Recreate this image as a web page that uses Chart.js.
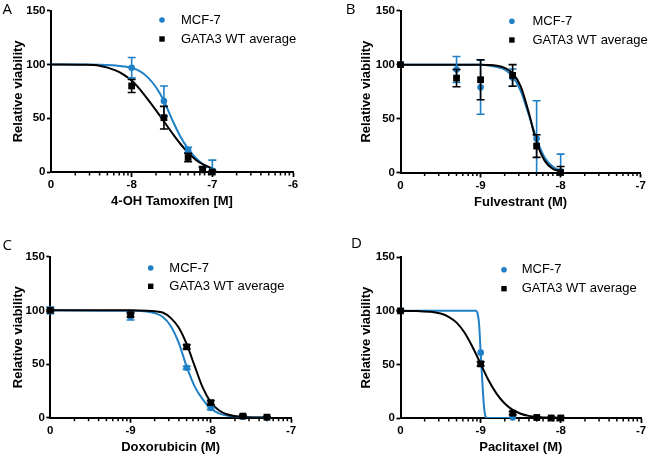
<!DOCTYPE html>
<html>
<head>
<meta charset="utf-8">
<script src="https://cdn.jsdelivr.net/npm/chart.js@4.4.0/dist/chart.umd.min.js"></script>
<style>
  body { margin: 0; background: #fff; }
  #wrap { position: relative; width: 650px; height: 457px; overflow: hidden; }
  .panel { position: absolute; }
  .letter { position: absolute; font: 15px "Open Sans", sans-serif; line-height: 1; color: #000; }
</style>
</head>
<body>
<div id="wrap">
  <canvas id="chartA" class="panel" width="325" height="228" style="left:0;top:0"></canvas>
  <canvas id="chartB" class="panel" width="325" height="228" style="left:325px;top:0"></canvas>
  <canvas id="chartC" class="panel" width="325" height="229" style="left:0;top:228px"></canvas>
  <canvas id="chartD" class="panel" width="325" height="229" style="left:325px;top:228px"></canvas>
  <div class="letter" style="left:2.5px;top:1.4px">A</div>
  <div class="letter" style="left:345.7px;top:0.7px">B</div>
  <div class="letter" style="left:2.5px;top:237.4px">C</div>
  <div class="letter" style="left:351px;top:235.4px">D</div>
</div>
<script>
// x values are log10 of the molar dose; the left end of each axis is the untreated control ("0")

// Panel A - 4-OH Tamoxifen
const tamDose = [-8, -7.6, -7.3, -7.12, -7];
const tamMcf7 = [97, 66, 20.5, 2, 1];
const tamMcf7Err = [9.5, 14, 2.5, 2, 10];
const tamGata3 = [80, 50.5, 13.5, 2, 0];
const tamGata3Err = [6, 10.5, 4, 3, 1];
const tamFitX = [-9, -8.6, -8.4, -8.2, -8.1, -8, -7.9, -7.8, -7.7, -7.6, -7.5, -7.4, -7.3, -7.2, -7.1, -7];
const tamMcf7Fit = [100, 100, 99.7, 99, 98.2, 96.8, 93.8, 88, 79, 66, 49, 33.5, 21.5, 12.5, 6.5, 2.8];
const tamGata3Fit = [100, 99.7, 98.8, 94.5, 90.5, 85, 77, 67.5, 57.5, 47, 36.5, 26.5, 18, 11, 6.5, 3.2];

// Panel B - Fulvestrant
const fulDose = [-10, -9.3, -9, -8.6, -8.3, -8];
const fulMcf7 = [100, 95.5, 79, 88, 31.5, 1];
const fulMcf7Err = [0, 12, 25, 8, 35, 16];
const fulGata3 = [100, 87.5, 86, 90, 24.5, 0];
const fulGata3Err = [0, 8, 18.5, 10, 10.5, 5.5];
const fulFitX = [-10, -9, -8.9, -8.8, -8.7, -8.6, -8.5, -8.4, -8.3, -8.2, -8.1, -8];
const fulMcf7Fit = [100, 99.8, 99.3, 98, 95.5, 89, 76, 54, 31, 14, 5.5, 1.5];
const fulGata3Fit = [100, 100, 99.7, 99, 97, 92, 80, 56, 28, 11, 3.5, 1];

// Panel C - Doxorubicin
const doxDose = [-10, -9, -8.3, -8, -7.6, -7.3];
const doxMcf7 = [100, 94, 46.5, 9, 1, 0];
const doxMcf7Err = [3, 3, 1.5, 1.5, 1, 0.5];
const doxGata3 = [100, 96, 66, 14, 1.5, 0.5];
const doxGata3Err = [1, 2, 2, 2, 1, 0.5];
const doxFitX = [-10, -9, -8.8, -8.7, -8.6, -8.5, -8.4, -8.3, -8.2, -8.1, -8, -7.9, -7.8, -7.7, -7.6, -7.3];
const doxMcf7Fit = [100, 99.6, 99, 97.5, 94, 85.5, 70, 47.5, 29, 17, 8.5, 4, 2, 1, 0.4, 0];
const doxGata3Fit = [100, 100, 99.7, 99.2, 98, 93, 84, 68.5, 48, 28, 14.5, 7, 3.2, 1.5, 0.7, 0.1];

// Panel D - Paclitaxel
const pacDose = [-10, -9, -8.6, -8.3, -8.12, -8];
const pacMcf7 = [100, 61, 0.5, 0, 0, 0];
const pacMcf7Err = [0, 0, 0, 0, 0, 0];
const pacGata3 = [100, 50.5, 4.5, 0.5, 0, 0];
const pacGata3Err = [0.5, 2, 1.5, 0.5, 0.5, 0.5];
const pacMcf7FitX = [-10, -9.06, -9.04, -9.02, -9, -8.98, -8.96, -8.94, -8.92, -8.6];
const pacMcf7Fit = [100, 100, 98, 88, 61, 35, 12, 1.5, 0, 0];
const pacGata3FitX = [-10, -9.8, -9.6, -9.5, -9.4, -9.3, -9.2, -9.1, -9, -8.9, -8.8, -8.7, -8.6, -8.5, -8.4, -8.3, -8];
const pacGata3Fit = [100, 99.8, 99, 97.5, 94.5, 89, 79.5, 66, 50.5, 35, 22.5, 13.5, 7.5, 4, 2, 1, 0.2];

const yTicks = [0, 50, 100, 150];
const seriesNames = ['MCF-7', 'GATA3 WT average'];

const BLUE = '#1f80c6';
const BLACK = '#000';
const FONT = '"Liberation Sans", Arial, sans-serif';

function pts(xs, ys) {
    return xs.map((x, i) => ({x: x, y: ys[i]}));
}

// error bars under each point series
const errorBars = {
    id: 'errorBars',
    beforeDatasetDraw(chart, args) {
        const ds = chart.data.datasets[args.index];
        if (!ds.errors) return;
        const ys = chart.scales.y;
        const ctx = chart.ctx;
        ctx.save();
        ctx.strokeStyle = ds.borderColor;
        ctx.lineWidth = 1.6;
        args.meta.data.forEach((pt, i) => {
            const e = ds.errors[i];
            if (!e) return;
            const v = ds.data[i].y;
            const top = ys.getPixelForValue(v + e);
            const bot = ys.getPixelForValue(Math.max(0, v - e));
            ctx.beginPath();
            ctx.moveTo(pt.x, top); ctx.lineTo(pt.x, bot);
            ctx.moveTo(pt.x - 4, top); ctx.lineTo(pt.x + 4, top);
            if (v - e > 0) { ctx.moveTo(pt.x - 4, bot); ctx.lineTo(pt.x + 4, bot); }
            ctx.stroke();
        });
        ctx.restore();
    }
};

// log-decade minor ticks on the x axis
const minorTicks = {
    id: 'minorTicks',
    afterDraw(chart) {
        const xs = chart.scales.x;
        const ctx = chart.ctx;
        const y0 = chart.chartArea.bottom;
        ctx.save();
        ctx.strokeStyle = '#000';
        ctx.lineWidth = 1.5;
        for (let d = Math.floor(xs.min); d < xs.max; d++) {
            for (let k = 2; k <= 9; k++) {
                const px = xs.getPixelForValue(d + Math.log10(k));
                ctx.beginPath();
                ctx.moveTo(px, y0);
                ctx.lineTo(px, y0 + 3.5);
                ctx.stroke();
            }
        }
        ctx.restore();
    }
};

// small legend inside the plot, top right
const panelLegend = {
    id: 'panelLegend',
    afterDraw(chart, args, opts) {
        const ctx = chart.ctx;
        const area = chart.chartArea;
        const items = chart.data.datasets.filter(d => d.legendLabel);
        ctx.save();
        ctx.font = '13px ' + FONT;
        ctx.textBaseline = 'middle';
        items.forEach((d, i) => {
            const x = area.left + opts.dx;
            const y = area.top + opts.dy + i * opts.gap;
            ctx.fillStyle = d.backgroundColor;
            if (d.pointStyle === 'circle') {
                ctx.beginPath();
                ctx.arc(x, y, 2.8, 0, Math.PI * 2);
                ctx.fill();
            } else {
                ctx.fillRect(x - 2.7, y - 2.7, 5.4, 5.4);
            }
            ctx.fillStyle = '#000';
            ctx.fillText(d.legendLabel, x + opts.tx, y);
        });
        ctx.restore();
    }
};

function makePanel(p) {
    const tickFont = {family: FONT, size: 11.5, weight: 'bold'};
    const titleFont = {family: FONT, size: 13, weight: 'bold'};
    new Chart(document.getElementById(p.id), {
        type: 'scatter',
        data: {
            datasets: [
                {
                    label: 'MCF-7 fit', data: pts(p.mcf7FitX, p.mcf7Fit), showLine: true,
                    borderColor: BLUE, borderWidth: 2, pointRadius: 0, cubicInterpolationMode: 'monotone', order: 4
                },
                {
                    label: 'GATA3 fit', data: pts(p.gata3FitX, p.gata3Fit), showLine: true,
                    borderColor: BLACK, borderWidth: 2, pointRadius: 0, cubicInterpolationMode: 'monotone', order: 3
                },
                {
                    label: seriesNames[0], legendLabel: seriesNames[0], data: pts(p.dose, p.mcf7), errors: p.mcf7Err,
                    pointStyle: 'circle', pointRadius: 3.3, backgroundColor: BLUE, borderColor: BLUE, borderWidth: 0,
                    clip: false, order: 2
                },
                {
                    label: seriesNames[1], legendLabel: seriesNames[1], data: pts(p.dose, p.gata3), errors: p.gata3Err,
                    pointStyle: 'rect', pointRadius: 4.8, backgroundColor: BLACK, borderColor: BLACK, borderWidth: 0,
                    clip: false, order: 1
                }
            ]
        },
        options: {
            responsive: false,
            animation: false,
            devicePixelRatio: 1,
            layout: {padding: {left: 0, top: p.top, right: p.right, bottom: p.bottom}},
            plugins: {
                legend: {display: false},
                tooltip: {enabled: false},
                panelLegend: p.legend
            },
            scales: {
                x: {
                    type: 'linear', min: p.min, max: p.max,
                    afterFit: s => { s.height = 39; },
                    border: {display: true, color: '#000', width: 2},
                    grid: {
                        drawOnChartArea: false, drawTicks: true, tickLength: 5, tickWidth: 1.8,
                        tickColor: c => (c.tick && c.tick.value === p.min) ? 'rgba(0,0,0,0)' : '#000'
                    },
                    ticks: {
                        stepSize: 1, padding: 1, color: '#000', font: tickFont, maxRotation: 0, autoSkip: false,
                        callback: v => v === p.min ? '0' : String(v)
                    },
                    title: {display: true, text: p.xTitle, color: '#000', font: titleFont, padding: {top: 0, bottom: 1.5}}
                },
                y: {
                    type: 'linear', min: 0, max: 150,
                    afterFit: s => { s.width = p.left; },
                    afterBuildTicks: s => { s.ticks = yTicks.map(v => ({value: v})); },
                    border: {display: true, color: '#000', width: 2},
                    grid: {drawOnChartArea: false, drawTicks: true, tickLength: 4, tickWidth: 1.8, tickColor: '#000'},
                    ticks: {padding: 1.5, color: '#000', font: tickFont},
                    title: {display: true, text: 'Relative viability', color: '#000', font: titleFont, padding: {top: p.yTitlePad, bottom: 0}}
                }
            }
        },
        plugins: [errorBars, minorTicks, panelLegend]
    });
}

makePanel({
    id: 'chartA', min: -9, max: -6, xTitle: '4-OH Tamoxifen [M]',
    dose: tamDose, mcf7: tamMcf7, mcf7Err: tamMcf7Err, gata3: tamGata3, gata3Err: tamGata3Err,
    mcf7FitX: tamFitX, mcf7Fit: tamMcf7Fit, gata3FitX: tamFitX, gata3Fit: tamGata3Fit,
    left: 51, right: 32, top: 10.7, bottom: 17, yTitlePad: 10.5,
    legend: {dx: 111, dy: 9.3, gap: 19, tx: 19}
});

makePanel({
    id: 'chartB', min: -10, max: -7, xTitle: 'Fulvestrant (M)',
    dose: fulDose, mcf7: fulMcf7, mcf7Err: fulMcf7Err, gata3: fulGata3, gata3Err: fulGata3Err,
    mcf7FitX: fulFitX, mcf7Fit: fulMcf7Fit, gata3FitX: fulFitX, gata3Fit: fulGata3Fit,
    left: 75.5, right: 9.3, top: 10.7, bottom: 16.5, yTitlePad: 33.9,
    legend: {dx: 111.4, dy: 10.6, gap: 18.7, tx: 20.6}
});

makePanel({
    id: 'chartC', min: -10, max: -7, xTitle: 'Doxorubicin (M)',
    dose: doxDose, mcf7: doxMcf7, mcf7Err: doxMcf7Err, gata3: doxGata3, gata3Err: doxGata3Err,
    mcf7FitX: doxFitX, mcf7Fit: doxMcf7Fit, gata3FitX: doxFitX, gata3Fit: doxGata3Fit,
    left: 50.3, right: 34, top: 28.7, bottom: 0.3, yTitlePad: 10.5,
    legend: {dx: 100.4, dy: 11.3, gap: 18.3, tx: 18.6}
});

makePanel({
    id: 'chartD', min: -10, max: -7, xTitle: 'Paclitaxel (M)',
    dose: pacDose, mcf7: pacMcf7, mcf7Err: pacMcf7Err, gata3: pacGata3, gata3Err: pacGata3Err,
    mcf7FitX: pacMcf7FitX, mcf7Fit: pacMcf7Fit, gata3FitX: pacGata3FitX, gata3Fit: pacGata3Fit,
    left: 75.5, right: 9, top: 29.3, bottom: 0, yTitlePad: 33.9,
    legend: {dx: 103.5, dy: 12.4, gap: 19, tx: 17.7}
});
</script>
</body>
</html>
